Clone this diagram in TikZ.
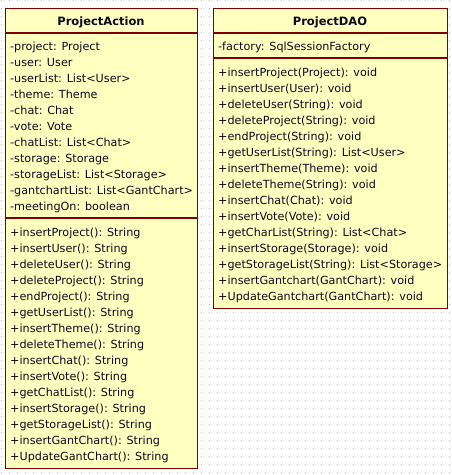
\documentclass[tikz,border=0pt]{standalone}
\usepackage{fontspec}
\setmainfont{DejaVu Sans}
\definecolor{boxfill}{RGB}{255,255,192}
\definecolor{boxline}{RGB}{128,0,0}
\definecolor{griddot}{RGB}{190,190,190}
\definecolor{txt}{RGB}{10,10,30}
\begin{document}
\begin{tikzpicture}[x=1pt,y=-1pt,
  classbox/.style={draw=boxline, fill=boxfill, line width=1.2pt, inner sep=0pt, anchor=north west},
  sepline/.style={draw=boxline, line width=1.2pt},
  member/.style={inner sep=0pt, anchor=base west, font=\fontsize{11.2}{13}\selectfont, text=txt},
  title/.style={inner sep=0pt, anchor=base, font=\fontsize{11.5}{13}\selectfont\bfseries, text=txt}]
\useasboundingbox (0,0) rectangle (452,475);
\fill[white] (0,0) rectangle (452,475);
\foreach \i in {0,...,56} {
  \foreach \j in {0,...,59} {
    \fill[griddot] (8*\i+1,8*\j) rectangle +(1,1);
  }
}
% ProjectAction
\node[classbox, minimum width=192pt, minimum height=460pt] (pa) at (5,8) {};
\draw[sepline] ([yshift=-25pt]pa.north west) -- ([yshift=-25pt]pa.north east);
\draw[sepline] ([yshift=-210pt]pa.north west) -- ([yshift=-210pt]pa.north east);
\node[title] (pat) at (101,25) {ProjectAction};
\foreach \t [count=\i] in {-project: Project,-user: User,-userList: List<User>,-theme: Theme,-chat: Chat,-vote: Vote,-chatList: List<Chat>,-storage: Storage,-storageList: List<Storage>,-gantchartList: List<GantChart>,-meetingOn: boolean} {
  \node[member] (pa-a\i) at (10,50+16*\i-16) {\t};
}
\foreach \t [count=\i] in {+insertProject(): String,+insertUser(): String,+deleteUser(): String,+deleteProject(): String,+endProject(): String,+getUserList(): String,+insertTheme(): String,+deleteTheme(): String,+insertChat(): String,+insertVote(): String,+getChatList(): String,+insertStorage(): String,+getStorageList(): String,+insertGantChart(): String,+UpdateGantChart(): String} {
  \node[member] (pa-m\i) at (10,236+16*\i-16) {\t};
}
% ProjectDAO
\node[classbox, minimum width=234pt, minimum height=300pt] (pd) at (213,8) {};
\draw[sepline] ([yshift=-25pt]pd.north west) -- ([yshift=-25pt]pd.north east);
\draw[sepline] ([yshift=-50pt]pd.north west) -- ([yshift=-50pt]pd.north east);
\node[title] (pdt) at (330,25) {ProjectDAO};
\node[member] (pd-a1) at (218,50) {-factory: SqlSessionFactory};
\foreach \t [count=\i] in {+insertProject(Project): void,+insertUser(User): void,+deleteUser(String): void,+deleteProject(String): void,+endProject(String): void,+getUserList(String): List<User>,+insertTheme(Theme): void,+deleteTheme(String): void,+insertChat(Chat): void,+insertVote(Vote): void,+getCharList(String): List<Chat>,+insertStorage(Storage): void,+getStorageList(String): List<Storage>,+insertGantchart(GantChart): void,+UpdateGantchart(GantChart): void} {
  \node[member] (pd-m\i) at (218,76+16*\i-16) {\t};
}
\end{tikzpicture}
\end{document}
